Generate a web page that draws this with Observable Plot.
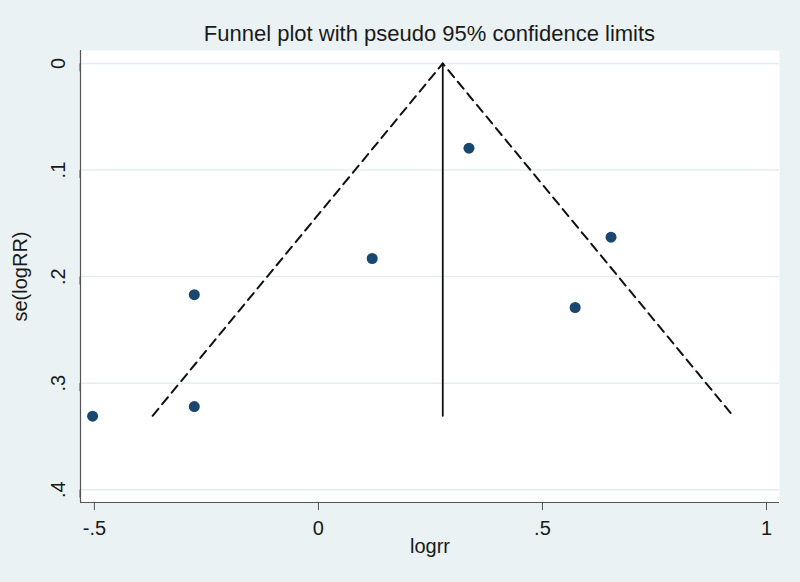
<!DOCTYPE html>
<html><head><meta charset="utf-8">
<script src="https://cdn.jsdelivr.net/npm/d3@7"></script>
<script src="https://cdn.jsdelivr.net/npm/@observablehq/plot@0.6"></script>
<style>
body{margin:0;}
#chart{width:800px;height:582px;background:#eaf2f3;position:relative;font-family:"Liberation Sans",Arial,sans-serif;}
#title{position:absolute;left:80px;width:699px;top:23px;text-align:center;font-size:22px;line-height:22px;color:#1a1a1a;}
#plot{position:absolute;left:0;top:50px;}
</style></head><body>
<div id="chart"><div id="title">Funnel plot with pseudo 95% confidence limits</div><div id="plot"></div></div>
<script>
// Study estimates
const logrr   = [-0.504, -0.277, -0.277, 0.120, 0.336, 0.653, 0.573];
const seLogRR = [0.331, 0.217, 0.322, 0.183, 0.0795, 0.163, 0.229];
// Funnel (pseudo 95% limits) and pooled line
const funnelX = [-0.370, 0.2775, 0.925];
const funnelSe = [0.3306, 0, 0.3306];
const pooledX = [0.2775, 0.2775];
const pooledSe = [0, 0.3306];
// Axes
const xTicks = [-0.5, 0, 0.5, 1];
const yTicks = [0, 0.1, 0.2, 0.3, 0.4];
const xDomain = [-0.531, 1.029];
const yDomain = [-0.0122, 0.412];

const studies = logrr.map((v, i) => ({logrr: v, se: seLogRR[i]}));
const funnel = funnelX.map((v, i) => ({logrr: v, se: funnelSe[i]}));
const pooled = pooledX.map((v, i) => ({logrr: v, se: pooledSe[i]}));
const fmt = d => d === 0 ? "0" : String(d).replace(/^(-?)0\./, "$1.");

const chart = Plot.plot({
  width: 800, height: 532,
  marginTop: 0, marginBottom: 80, marginLeft: 80, marginRight: 21,
  style: {background: "transparent", fontFamily: "'Liberation Sans', Arial, sans-serif", fontSize: "20px", color: "#1a1a1a"},
  x: {domain: xDomain},
  y: {domain: yDomain, reverse: true},
  marks: [
    Plot.frame({fill: "white", stroke: "none"}),
    Plot.gridY(yTicks, {stroke: "#e4eef0", strokeOpacity: 1, strokeWidth: 1.5}),
    Plot.ruleX([xDomain[0]], {stroke: "#555", strokeWidth: 1.2}),
    Plot.ruleY([yDomain[1]], {stroke: "#555", strokeWidth: 1.2}),
    Plot.axisX(xTicks, {tickSize: 8, tickPadding: 10, tickFormat: fmt, fontSize: 20, stroke: "#555", fill: "#1a1a1a",
      label: "logrr", labelAnchor: "center", labelOffset: 50, labelArrow: "none"}),
    Plot.axisY(yTicks, {tickSize: 8, tickPadding: 8, tickFormat: fmt, fontSize: 20, stroke: "#555", fill: "#1a1a1a",
      rotate: -90, textAnchor: "middle", lineAnchor: "bottom",
      label: "se(logRR)", labelAnchor: "center", labelOffset: 68, labelArrow: "none"}),
    Plot.line(funnel, {x: "logrr", y: "se", stroke: "#111", strokeWidth: 2, strokeDasharray: "9,6"}),
    Plot.line(pooled, {x: "logrr", y: "se", stroke: "#111", strokeWidth: 1.8}),
    Plot.dot(studies, {x: "logrr", y: "se", r: 5.5, fill: "#1a476f", stroke: "none"})
  ]
});
document.getElementById("plot").appendChild(chart);
</script>
</body></html>
